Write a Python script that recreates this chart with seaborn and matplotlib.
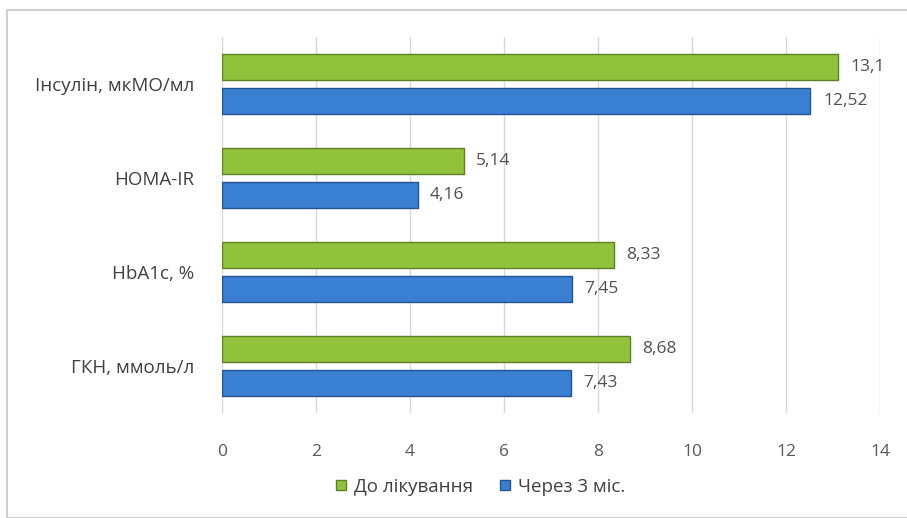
import matplotlib
matplotlib.use("Agg")
import matplotlib.pyplot as plt
import seaborn as sns
import pandas as pd
from matplotlib.patches import Rectangle
from matplotlib.lines import Line2D

categories = ["Інсулін, мкМО/мл", "HOMA-IR", "HbA1c, %", "ГКН, ммоль/л"]
series_names = ["До лікування", "Через 3 міс."]
before = [13.1, 5.14, 8.33, 8.68]
after = [12.52, 4.16, 7.45, 7.43]
before_labels = ["13,1", "5,14", "8,33", "8,68"]
after_labels = ["12,52", "4,16", "7,45", "7,43"]
x_ticks = [0, 2, 4, 6, 8, 10, 12, 14]

sns.set_theme(style="white")
plt.rcParams["font.family"] = ["Open Sans", "DejaVu Sans"]

df = pd.DataFrame({
    "cat": categories * 2,
    "series": [series_names[0]] * 4 + [series_names[1]] * 4,
    "val": before + after,
})

colors = {series_names[0]: "#92c23c", series_names[1]: "#3a7fd2"}
edges = {series_names[0]: "#5f7f25", series_names[1]: "#25548f"}

fig = plt.figure(figsize=(9.07, 5.18), dpi=100)
ax = fig.add_axes([222 / 907, 105 / 518, 658 / 907, 376 / 518])

sns.barplot(data=df, y="cat", x="val", hue="series", order=categories,
            hue_order=series_names, palette=colors, orient="h", saturation=1,
            width=0.72, gap=0.22, ax=ax, legend=False)

for bar_container, name in zip(ax.containers, series_names):
    for p in bar_container:
        p.set_edgecolor(edges[name])
        p.set_linewidth(1.0)

for bar_container, labels in zip(ax.containers, [before_labels, after_labels]):
    ax.bar_label(bar_container, labels=labels, padding=9, fontsize=12.5, color="#505050")

ax.set_xlim(0, 14)
ax.set_xticks(x_ticks)
ax.set_xticklabels([str(t) for t in x_ticks])
ax.set_ylim(3.5, -0.5)
ax.xaxis.grid(True, color="#d9d9d9", linewidth=1)
ax.set_axisbelow(True)
for s in ax.spines.values():
    s.set_visible(False)
ax.set_xlabel("")
ax.set_ylabel("")
ax.tick_params(axis="x", labelsize=12.5, colors="#595959", pad=22, length=0)
ax.tick_params(axis="y", labelsize=13.5, colors="#404040", pad=20, length=0)

handles = [Line2D([0], [0], marker="s", linestyle="", markersize=7,
                  markerfacecolor=colors[n], markeredgecolor=edges[n]) for n in series_names]
fig.legend(handles, series_names, loc="center", bbox_to_anchor=(478 / 907, 1 - 487 / 518),
           ncol=2, frameon=False, fontsize=13.5, handletextpad=0.1, columnspacing=1.2,
           handlelength=1.1, labelcolor="#404040")

fig.patches.append(Rectangle((7 / 907, 0), 1.0, 1 - 10 / 518, transform=fig.transFigure,
                             fill=False, edgecolor="#d0d0d0", linewidth=1.5))

fig.savefig("out.png", dpi=100)
